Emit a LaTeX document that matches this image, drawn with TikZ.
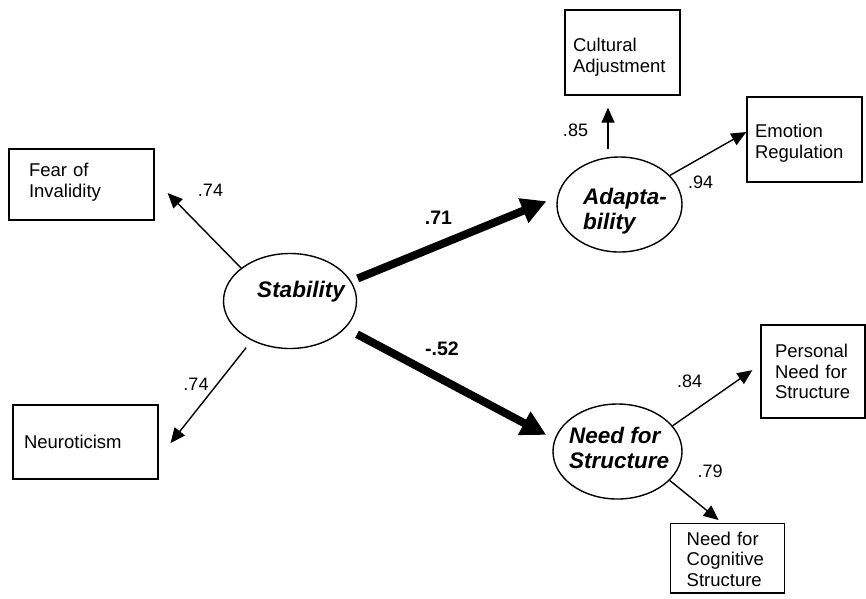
\documentclass[tikz,border=0pt]{standalone}
\usepackage{fontspec}
\setmainfont{Liberation Sans}
\usetikzlibrary{arrows.meta,shapes.geometric,calc}
\begin{document}
\begin{tikzpicture}[x=1pt,y=-1pt,
  obsbox/.style={draw, line width=1.4pt, rectangle, align=left,
    font=\fontsize{18.5}{20.7}\selectfont, inner ysep=0pt},
  latent/.style={draw, ellipse, line width=1.4pt, inner sep=0pt},
  lattext/.style={font=\fontsize{22.5}{25}\selectfont\bfseries\itshape, align=left, inner sep=0pt},
  coef/.style={font=\fontsize{18}{20}\selectfont, inner sep=0pt},
  pathcoef/.style={font=\fontsize{19.5}{22}\selectfont\bfseries, inner sep=0pt},
  arr/.style={line width=1.4pt, -{Triangle[length=15pt,width=13pt]}},
  bigarr/.style={line width=8pt, -{Triangle[length=25pt,width=25pt]}}
]
\useasboundingbox (0,0) rectangle (866,598);
\clip (0,0) rectangle (866,598);

% observed indicators
\node[obsbox, minimum width=145pt, minimum height=71pt, text width=105pt, inner xsep=20pt, text depth=28.5pt] (fear) at (81.5,184.5) {Fear of\\Invalidity};
\node[obsbox, minimum width=145pt, minimum height=74pt, text width=123pt, inner xsep=11pt] (neuro) at (85.5,442) {Neuroticism};
\node[obsbox, minimum width=115pt, minimum height=85pt, text width=99pt, inner xsep=8pt, text height=23pt] (cult) at (622.5,52.5) {Cultural\\Adjustment};
\node[obsbox, minimum width=115pt, minimum height=85pt, text width=99pt, inner xsep=8pt, text height=20.5pt] (emo) at (804.5,139.5) {Emotion\\Regulation};
\node[obsbox, minimum width=104pt, minimum height=93pt, text width=76pt, inner xsep=14pt] (pers) at (813,371.5) {Personal\\Need for\\Structure};
\node[obsbox, anchor=north west, text width=82pt, inner xsep=16pt, inner ysep=8pt, text depth=40pt] (cog) at (670,523) {Need for\\Cognitive\\Structure};

% latent variables
\node[latent, minimum width=133pt, minimum height=95pt] (stab) at (290,301) {};
\node[latent, minimum width=125pt, minimum height=95pt] (adapt) at (619.5,204.5) {};
\node[latent, minimum width=129pt, minimum height=95pt] (nfs) at (617.5,451.5) {};
\node[lattext] (stabtxt) at (301,291.5) {Stability};
\node[lattext, anchor=north west] (adapttxt) at (583,187.5) {Adapta-\\bility};
\node[lattext, anchor=north west] (nfstxt) at (569,426.6) {Need for\\Structure};

% loadings
\draw[arr, shorten >=18.5pt] (stab.146.6) -- ($(fear.east)+(0,-4.7)$);
\draw[arr, shorten <=9pt, shorten >=19pt] (stab.226.9) -- ($(neuro.east)+(0,16)$);
\draw[arr, shorten >=12pt] ($(adapt.north)+(-11.5,-7)$) -- ($(cult.south)+(-14.5,0)$);
\draw[arr] (adapt.30.3) -- ($(emo.west)+(0,-7.5)$);
\draw[arr, shorten >=9.7pt] (nfs.25.9) -- ($(pers.west)+(0,-6.9)$);
\draw[arr, shorten >=4.7pt] (nfs.331.5) -- ($(cog.north)+(-5.4,0)$);

% structural paths
\draw[bigarr, shorten <=7pt, shorten >=11.5pt] (stab.18.2) -- (adapt.173.7);
\draw[bigarr, shorten <=13pt, shorten >=9.25pt] (stab.334.5) -- (nfs.169);

% coefficients
\node[coef] (c1) at (210.5,190) {.74};
\node[coef] (c2) at (196,384) {.74};
\node[pathcoef] (c3) at (438.5,218) {.71};
\node[pathcoef] (c4) at (442,348.5) {-.52};
\node[coef] (c5) at (575.5,130) {.85};
\node[coef] (c6) at (700.5,182.5) {.94};
\node[coef] (c7) at (689.5,381) {.84};
\node[coef] (c8) at (710,471) {.79};
\end{tikzpicture}
\end{document}
